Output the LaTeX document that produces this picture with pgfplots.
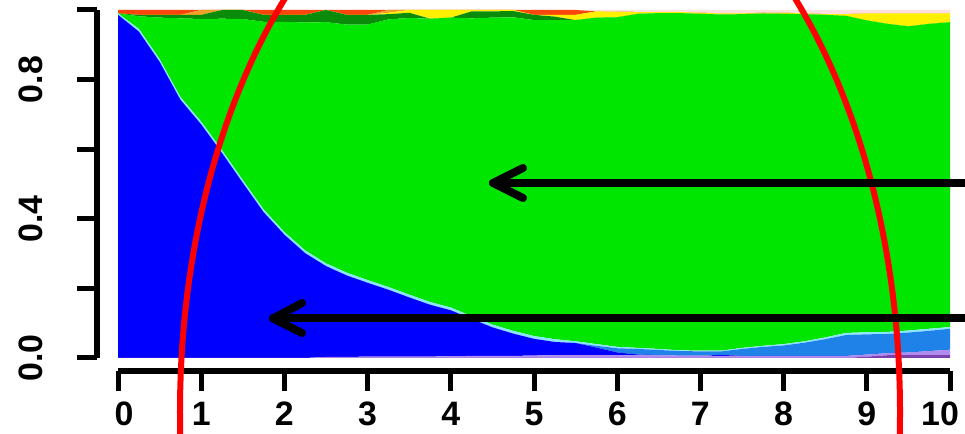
\documentclass[border=0pt]{standalone}
\usepackage{pgfplots}
\pgfplotsset{compat=1.18}
\usepackage{pgfplotstable}
\usepackage{fontspec}
\setmainfont{Liberation Sans}
\definecolor{cDP}{RGB}{125,65,175}
\definecolor{cLP}{RGB}{175,140,240}
\definecolor{cB}{RGB}{0,0,255}
\definecolor{cLB}{RGB}{30,130,232}
\definecolor{cCy}{RGB}{140,230,250}
\definecolor{cG}{RGB}{0,230,0}
\definecolor{cDG}{RGB}{10,140,10}
\definecolor{cY}{RGB}{255,240,0}
\definecolor{cO}{RGB}{240,160,40}
\definecolor{cR}{RGB}{250,70,10}
\definecolor{cPk}{RGB}{255,222,226}
\pgfplotstableread{
x dpur lpur blue lblue cyan green dgreen yellow orange red pk
0 0 0 .986 0 .004 0 0 0 0 .010 0
0.25 0 0 .938 0 .008 .036 .004 0 0 .014 0
0.5 0 0 .851 0 .008 .119 .008 0 0 .014 0
0.75 0 0 .742 0 .008 .226 .010 0 0 .014 0
1 0 0 .671 0 .008 .295 .012 0 .014 0 0
1.25 0 0 .589 0 .008 .378 .025 0 0 0 0
1.5 0 0 .503 0 .008 .463 .026 0 0 0 0
1.75 0 0 .419 0 .008 .539 .020 0 0 .014 0
2 0 0 .354 0 .008 .604 .020 0 0 .014 0
2.25 0 0 .301 0 .008 .655 .022 0 0 .014 0
2.5 0 .003 .261 0 .008 .693 .035 0 0 0 0
2.75 0 .003 .234 0 .008 .713 .028 0 0 .014 0
3 0 .004 .212 0 .008 .734 .028 0 0 .014 0
3.25 0 .004 .192 0 .008 .769 .015 .004 .008 0 0
3.5 0 .004 .170 0 .008 .795 .015 .008 0 0 0
3.75 0 .004 .149 0 .008 .814 0 .025 0 0 0
4 0 .005 .132 0 .008 .833 0 .022 0 0 0
4.25 0 .006 .106 0 .008 .856 .020 .004 0 0 0
4.5 0 .006 .082 0 .008 .882 .018 .004 0 0 0
4.75 0 .006 .064 0 .008 .901 .018 .003 0 0 0
5 0 .007 .048 0 .008 .908 .015 0 0 .014 0
5.25 0 .008 .038 0 .008 .917 .010 .005 0 .014 0
5.5 0 .008 .035 0 .005 .923 0 .015 0 .014 0
5.75 0 .008 .022 .005 .005 .938 0 .018 0 0 .004
6 0 .008 .008 .012 .004 .947 0 .016 0 0 .005
6.25 0 .008 .002 .016 .003 .960 0 .005 0 0 .006
6.5 0 .008 0 .015 .003 .965 0 .003 0 0 .006
6.75 0 .007 0 .013 .002 .969 0 .003 0 0 .006
7 0 .007 0 .012 .002 .968 0 .003 0 0 .008
7.25 0 .006 .003 .010 .002 .966 0 .003 0 0 .010
7.5 0 .006 0 .020 .003 .959 0 .002 0 0 .010
7.75 0 .006 0 .026 .003 .955 0 .002 0 0 .008
8 0 .006 0 .030 .004 .949 0 .003 0 0 .008
8.25 0 .006 0 .038 .004 .940 0 .002 0 0 .010
8.5 0 .006 0 .048 .005 .927 0 .002 0 0 .012
8.75 0 .006 0 .060 .006 .911 0 .005 0 0 .012
9 .004 .006 0 .058 .006 .896 0 .020 0 0 .010
9.25 .008 .006 0 .055 .006 .885 0 .030 0 0 .010
9.5 .008 .008 0 .057 .006 .874 0 .037 0 0 .010
9.75 .008 .012 0 .058 .006 .876 0 .030 0 0 .010
10 .008 .016 0 .060 .005 .876 0 .025 0 0 .010
}\data
\begin{document}
\begin{tikzpicture}[x=1bp,y=1bp]
\begin{axis}[
  at={(118bp,76bp)}, anchor=south west,
  width=832bp, height=348bp, scale only axis,
  xmin=0, xmax=10, ymin=0, ymax=1,
  axis lines=left,
  axis line style={-, line width=6bp, black},
  axis x line shift=13bp, axis y line shift=21bp,
  stack plots=y,
  xtick={0,1,2,3,4,5,6,7,8,9,10},
  xticklabels={\hspace{12bp}0,1,2,3,4,5,6,7,8,9,10\kern20bp},
  ytick={0,0.2,0.4,0.6,0.8,1},
  yticklabels={0.0,,0.4,,0.8,},
  tick align=outside,
  major tick length=20bp,
  tick style={line width=5bp, black},
  ticklabel style={font=\fontsize{34}{40}\selectfont\bfseries},
  xticklabel style={inner sep=0pt, anchor=north, yshift=-11bp},
  yticklabel style={rotate=90, anchor=south, inner sep=0pt, yshift=34bp},
  every axis plot/.append style={draw=none},
]
\addplot[fill=cDP] table[x=x,y=dpur]{\data} \closedcycle;
\addplot[fill=cLP] table[x=x,y=lpur]{\data} \closedcycle;
\addplot[fill=cB] table[x=x,y=blue]{\data} \closedcycle;
\addplot[fill=cLB] table[x=x,y=lblue]{\data} \closedcycle;
\addplot[fill=cCy] table[x=x,y=cyan]{\data} \closedcycle;
\addplot[fill=cG] table[x=x,y=green]{\data} \closedcycle;
\addplot[fill=cDG] table[x=x,y=dgreen]{\data} \closedcycle;
\addplot[fill=cY] table[x=x,y=yellow]{\data} \closedcycle;
\addplot[fill=cO] table[x=x,y=orange]{\data} \closedcycle;
\addplot[fill=cR] table[x=x,y=red]{\data} \closedcycle;
\addplot[fill=cPk] table[x=x,y=pk]{\data} \closedcycle;
\end{axis}
\draw[red, line width=6bp] (540,22) ellipse [x radius=360bp, y radius=586bp];
\draw[black, line width=8bp, line cap=round, line join=round] (975,251) -- (493,251);
\draw[black, line width=8bp, line cap=round, line join=round] (523,266) -- (493,251) -- (523,236);
\draw[black, line width=8bp, line cap=round, line join=round] (975,115.5) -- (273,115.5);
\draw[black, line width=8bp, line cap=round, line join=round] (302,131) -- (273,115.5) -- (302,101);
\pgfresetboundingbox
\useasboundingbox (0,0) rectangle (965,434);
\end{tikzpicture}
\end{document}
